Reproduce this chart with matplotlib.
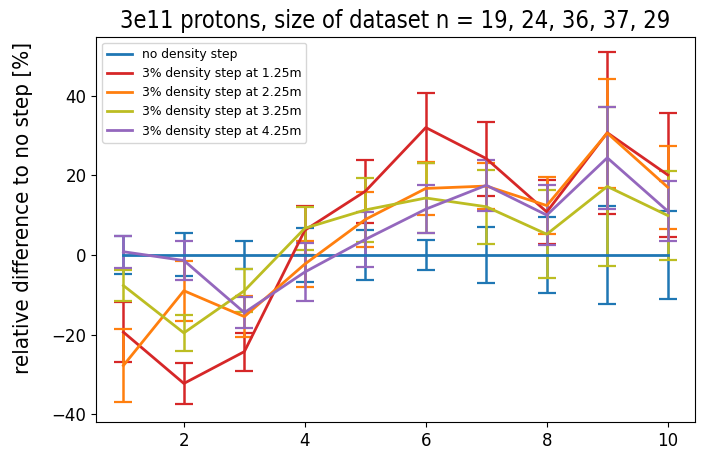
import numpy as np
import matplotlib
matplotlib.use("Agg")
import matplotlib.pyplot as plt
from matplotlib import font_manager

# позиции по оси x
x = [1, 2, 3, 4, 5, 6, 7, 8, 9, 10]

# нет скачка плотности
no_step = [0, 0, 0, 0, 0, 0, 0, 0, 0, 0]
no_step_err = [4.8, 5.4, 3.5, 6.8, 6.3, 3.8, 7.0, 9.5, 12.3, 11.0]

# скачок 3% на 1.25m
step_125 = [-19.4, -32.3, -24.3, 6.2, 16.0, 32.0, 24.2, 10.8, 30.7, 20.1]
step_125_err = [7.5, 5.2, 4.8, 6.2, 7.9, 8.8, 9.3, 8.0, 20.3, 15.6]

# скачок 3% на 2.25m
step_225 = [-27.8, -9.0, -15.5, -2.3, 8.9, 16.7, 17.3, 12.4, 30.6, 17.0]
step_225_err = [9.2, 7.5, 5.2, 5.8, 6.9, 6.7, 5.8, 7.2, 13.7, 10.4]

# скачок 3% на 3.25m
step_325 = [-7.7, -19.6, -9.0, 6.7, 11.3, 14.3, 12.1, 5.2, 17.2, 9.9]
step_325_err = [3.9, 4.5, 5.4, 5.4, 8.0, 8.8, 9.3, 11.0, 20.0, 11.2]

# скачок 3% на 4.25m
step_425 = [0.8, -1.4, -14.5, -4.3, 3.9, 11.5, 17.5, 10.0, 24.4, 11.0]
step_425_err = [4.0, 4.9, 3.9, 7.4, 6.9, 6.0, 6.4, 7.5, 12.8, 7.5]

labels = ["no density step",
          "3% density step at 1.25m",
          "3% density step at 2.25m",
          "3% density step at 3.25m",
          "3% density step at 4.25m"]
colors = ["tab:blue", "tab:red", "tab:orange", "tab:olive", "tab:purple"]

series = [(no_step, no_step_err), (step_125, step_125_err), (step_225, step_225_err),
          (step_325, step_325_err), (step_425, step_425_err)]

# узкий шрифт для заголовка и подписи оси
cond_file = font_manager.findfont(font_manager.FontProperties(family="DejaVu Sans", stretch="condensed"))

fig = plt.figure(figsize=(7.02, 4.49), dpi=100)
ax = fig.add_axes([0.137, 0.06, 0.853, 0.858])

handles = []
for (vals, errs), lab, col in zip(series, labels, colors):
    eb = ax.errorbar(x, vals, yerr=errs, color=col, label=lab, capsize=6.5,
                     linewidth=2, capthick=1.6, elinewidth=1.8)
    handles.append(eb[0])

ax.set_ylabel("relative difference to no step [%]",
              fontproperties=font_manager.FontProperties(fname=cond_file, size=16))
ax.yaxis.set_label_coords(-0.105, 0.555)
ax.set_title("3e11 protons, size of dataset n = 19, 24, 36, 37, 29",
             fontproperties=font_manager.FontProperties(fname=cond_file, size=17))
ax.set_yticks([-40, -20, 0, 20, 40])
ax.set_xticks([2, 4, 6, 8, 10])
ax.tick_params(labelsize=12)
ax.set_ylim(-42, 54.8)
ax.legend(handles=handles, labels=labels, loc="upper left", fontsize=8.9)

plt.savefig("out.png", dpi=100)
